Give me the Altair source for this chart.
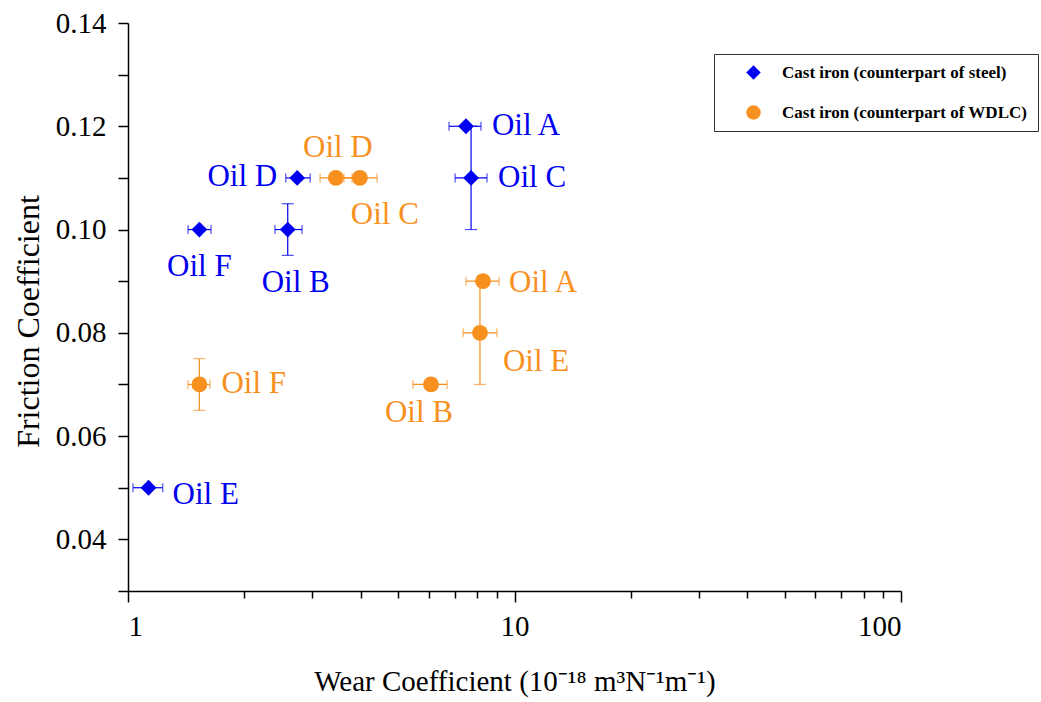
import altair as alt
import pandas as pd

# ---- data ----
oil_names = ["Oil A", "Oil B", "Oil C", "Oil D", "Oil E", "Oil F"]

steel_label = "Cast iron (counterpart of steel)"
wdlc_label = "Cast iron (counterpart of WDLC)"

# Cast iron (counterpart of steel)
steel_wear = [7.49, 2.59, 7.72, 2.74, 1.13, 1.53]
steel_wear_lo = [6.77, 2.40, 7.02, 2.56, 1.03, 1.43]
steel_wear_hi = [8.19, 2.82, 8.49, 2.96, 1.23, 1.64]
steel_friction = [0.12, 0.10, 0.11, 0.11, 0.05, 0.10]
steel_friction_err = [0.0, 0.005, 0.01, 0.0, 0.0, 0.0]

# Cast iron (counterpart of WDLC)
wdlc_wear = [8.29, 6.08, 3.98, 3.45, 8.14, 1.53]
wdlc_wear_lo = [7.49, 5.46, 3.62, 3.14, 7.36, 1.43]
wdlc_wear_hi = [9.12, 6.69, 4.41, 3.80, 9.01, 1.63]
wdlc_friction = [0.09, 0.07, 0.11, 0.11, 0.08, 0.07]
wdlc_friction_err = [0.0, 0.0, 0.0, 0.0, 0.01, 0.005]

y_ticks = [0.03, 0.04, 0.05, 0.06, 0.07, 0.08, 0.09, 0.10, 0.11, 0.12, 0.13, 0.14]
x_ticks = [1, 2, 3, 4, 5, 6, 7, 8, 9, 10, 20, 30, 40, 50, 60, 70, 80, 90, 100]

rows = []
for s, xs, lo, hi, ys, ye in [
    (steel_label, steel_wear, steel_wear_lo, steel_wear_hi, steel_friction, steel_friction_err),
    (wdlc_label, wdlc_wear, wdlc_wear_lo, wdlc_wear_hi, wdlc_friction, wdlc_friction_err),
]:
    for i, n in enumerate(oil_names):
        rows.append(dict(series=s, name=n, x=xs[i], xlo=lo[i], xhi=hi[i],
                         y=ys[i], ylo=ys[i] - ye[i], yhi=ys[i] + ye[i], yerr=ye[i]))
df = pd.DataFrame(rows)

BLUE = "#0000F0"
ORANGE = "#F7901E"
FONT = "Liberation Serif"

# label placement (style only): (series, name) -> (dx, dy, align)
placement = {
    (steel_label, "Oil A"): (26, 0, "left"),
    (steel_label, "Oil C"): (27, 0, "left"),
    (steel_label, "Oil D"): (-20, -1, "right"),
    (steel_label, "Oil B"): (8, 53, "center"),
    (steel_label, "Oil F"): (0, 37, "center"),
    (steel_label, "Oil E"): (24, 7, "left"),
    (wdlc_label, "Oil D"): (2, -30, "center"),
    (wdlc_label, "Oil C"): (25, 37, "center"),
    (wdlc_label, "Oil A"): (26, 2, "left"),
    (wdlc_label, "Oil E"): (23, 29, "left"),
    (wdlc_label, "Oil B"): (-12, 29, "center"),
    (wdlc_label, "Oil F"): (22, 0, "left"),
}

color_scale = alt.Scale(domain=[steel_label, wdlc_label], range=[BLUE, ORANGE])
shape_scale = alt.Scale(domain=[steel_label, wdlc_label], range=["diamond", "circle"])

legend = alt.Legend(
    orient="none", legendX=586, legendY=31,
    strokeColor="#333333", fillColor="white", padding=10,
    symbolOffset=21, symbolSize=210, symbolStrokeWidth=0, symbolOpacity=1,
    labelFont=FONT, labelFontSize=17, labelFontWeight="bold",
    labelColor="black", labelLimit=400, labelOffset=20,
    rowPadding=22, cornerRadius=0)

color_enc = alt.Color("series:N", scale=color_scale, title=None, legend=legend)
shape_enc = alt.Shape("series:N", scale=shape_scale, title=None, legend=legend)

major_x = "datum.value == 1 || datum.value == 10 || datum.value == 100"
x_scale = alt.Scale(type="log", domain=[1, 100], nice=False)
y_scale = alt.Scale(domain=[0.03, 0.14], nice=False, zero=False)

x_axis = alt.Axis(
    title="Wear Coefficient (10⁻¹⁸ m³N⁻¹m⁻¹)",
    values=x_ticks,
    labelExpr=f"({major_x}) ? format(datum.value, 'd') : ''",
    tickSize={"condition": {"test": major_x, "value": 11}, "value": 7},
    grid=False,
    domainColor="black", tickColor="black", domainWidth=1.5, tickWidth=1.5,
    labelFont=FONT, labelFontSize=29, labelColor="black", labelPadding=10,
    titleFont=FONT, titleFontSize=29, titleFontWeight="normal", titleColor="black",
    titlePadding=26, labelOverlap=False,
)
y_axis = alt.Axis(
    title="Friction Coefficient",
    values=y_ticks,
    labelExpr="(round(datum.value*100) % 2 == 0) ? format(datum.value, '.2f') : ''",
    tickSize=10, grid=False,
    domainColor="black", tickColor="black", domainWidth=1.5, tickWidth=1.5,
    labelFont=FONT, labelFontSize=29, labelColor="black", labelPadding=12,
    titleFont=FONT, titleFontSize=32, titleFontWeight="normal", titleColor="black",
    titlePadding=10, titleY=298, labelOverlap=False,
)

base = alt.Chart(df)

x_enc = alt.X("x:Q", scale=x_scale, axis=x_axis)
y_enc = alt.Y("y:Q", scale=y_scale, axis=y_axis)

h_rule = base.mark_rule(strokeWidth=1.2).encode(
    x=alt.X("xlo:Q", scale=x_scale, axis=x_axis), x2="xhi:Q", y=y_enc, color=color_enc)
h_cap_lo = base.mark_tick(orient="vertical", size=9, thickness=1.2).encode(
    x=alt.X("xlo:Q", scale=x_scale), y=alt.Y("y:Q", scale=y_scale), color=color_enc)
h_cap_hi = base.mark_tick(orient="vertical", size=9, thickness=1.2).encode(
    x=alt.X("xhi:Q", scale=x_scale), y=alt.Y("y:Q", scale=y_scale), color=color_enc)

vbase = base.transform_filter("datum.yerr > 0")
v_rule = vbase.mark_rule(strokeWidth=1.2).encode(
    x=alt.X("x:Q", scale=x_scale), y=alt.Y("ylo:Q", scale=y_scale), y2="yhi:Q", color=color_enc)
v_cap_lo = vbase.mark_tick(orient="horizontal", size=12, thickness=1.2).encode(
    x=alt.X("x:Q", scale=x_scale), y=alt.Y("ylo:Q", scale=y_scale), color=color_enc)
v_cap_hi = vbase.mark_tick(orient="horizontal", size=12, thickness=1.2).encode(
    x=alt.X("x:Q", scale=x_scale), y=alt.Y("yhi:Q", scale=y_scale), color=color_enc)

points = base.mark_point(filled=True, opacity=1, size=250).encode(
    x=x_enc, y=y_enc, color=color_enc, shape=shape_enc,
)

label_layers = []
for (s, n), (dx, dy, al) in placement.items():
    label_layers.append(
        base.transform_filter(
            (alt.datum.series == s) & (alt.datum.name == n)
        ).mark_text(font=FONT, fontSize=31, dx=dx, dy=dy, align=al, baseline="middle").encode(
            x=alt.X("x:Q", scale=x_scale), y=alt.Y("y:Q", scale=y_scale),
            text="name:N", color=color_enc)
    )

chart = alt.layer(
    h_rule, h_cap_lo, h_cap_hi, v_rule, v_cap_lo, v_cap_hi, points, *label_layers
).properties(
    width=773, height=568,
    autosize=alt.AutoSizeParams(type="none"),
    padding={"left": 128, "top": 23, "right": 140, "bottom": 111},
    background="white",
).configure_view(stroke=None)

chart.save("out.html", embed_options={"renderer": "svg", "actions": False})
